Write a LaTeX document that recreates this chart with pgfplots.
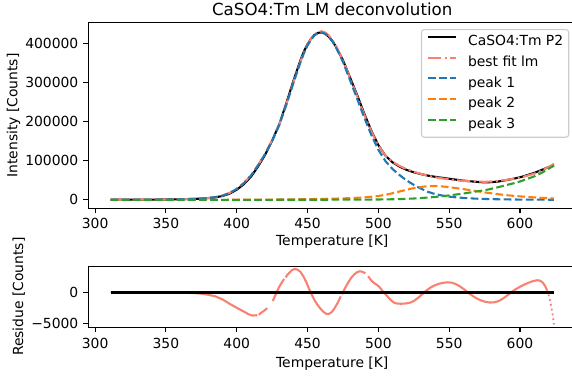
\documentclass[border=0pt]{standalone}
\usepackage{fontspec}
\setmainfont{DejaVu Sans}
\usepackage{pgfplots}
\usepackage{pgfplotstable}
\pgfplotsset{compat=1.18}
\definecolor{tabblue}{HTML}{1F77B4}
\definecolor{taborange}{HTML}{FF7F0E}
\definecolor{tabgreen}{HTML}{2CA02C}
\definecolor{salmon}{HTML}{FA8072}
\definecolor{leggray}{HTML}{CCCCCC}

\pgfplotstableread{
T data fit p1 p2 p3
311 300 350 350 0 0
315 350 405 405 0 0
320 400 460 460 0 0
325 450 515 515 0 0
330 500 570 570 0 0
335 600 680 680 0 0
340 700 790 790 0 0
345 850 950 950 0 0
350 1000 1110 1060 0 50
355 1200 1335 1285 0 50
360 1500 1660 1610 0 50
365 1900 2105 2030 0 75
370 2500 2750 2650 0 100
375 3300 3600 3450 50 100
380 4500 4920 4720 100 100
385 6500 7150 6900 150 100
390 10000 11150 10850 200 100
395 16000 17850 17480 250 120
400 26000 28500 28050 300 150
405 40000 43100 42530 400 170
410 59000 62670 61970 500 200
415 85000 88600 87800 600 200
420 115000 117850 116950 700 200
425 151000 152450 151380 850 220
430 193000 192100 190850 1000 250
435 247000 244400 242930 1200 270
440 304000 300300 298600 1400 300
445 357000 353700 351730 1650 320
447.5 380000 377600 375495 1770 335
450 398000 396850 394600 1900 350
452.5 412000 412150 409740 2050 360
455 422000 423300 420730 2200 370
457.5 427000 429300 426565 2350 385
460 428000 430850 427950 2500 400
462.5 424500 427800 424690 2700 410
465 417000 420500 417150 2900 450
467.5 406000 409000 405425 3100 475
470 392000 394300 390500 3300 500
475 357000 357000 352600 3850 550
480 313000 311000 305900 4500 600
485 268000 264750 258670 5400 680
490 221000 217850 210600 6500 750
495 177000 175100 166230 8000 870
500 140000 139000 128000 10000 1000
505 113000 113300 99000 13000 1300
510 96000 97500 78900 17000 1600
515 85000 86830 63330 21500 2000
520 76500 78270 49570 26000 2700
525 70500 71900 38400 30000 3500
530 66000 66500 28900 33000 4600
535 62000 61530 20530 35000 6000
540 59000 57850 14850 35500 7500
545 56500 55000 11200 34500 9300
550 54000 52400 8400 32500 11500
555 51600 50300 6500 30000 13800
560 49170 48700 5000 27500 16200
565 47550 47700 3900 24800 19000
570 45950 47000 3000 22000 22000
575 44600 46100 2400 19200 24500
580 45350 47000 1900 16600 28500
585 47100 48500 1500 14200 32800
590 50300 50900 1200 12200 37500
595 53700 53500 1000 10500 42000
600 57700 56800 800 9000 47000
605 63200 61800 700 7600 53500
610 68850 67000 600 6400 60000
615 76050 74300 500 5300 68500
620 83550 83850 450 4400 79000
624 87000 92200 400 3800 88000
}\maintab

\pgfplotstableread{
T r
311 -10
320 -10
330 -15
340 -20
350 -30
360 -50
370 -120
375 -220
380 -400
385 -650
390 -1150
395 -1850
400 -2500
405 -3100
408 -3500
411 -3750
414 -3700
414.5 -3680
415 nan
415.5 -3620
417 -3350
420 -2850
421.5 -2550
423.5 nan
425.5 -1400
426 -1100
428 -100
430 900
433 2000
433.5 2150
434 nan
434.5 2400
436 2900
439 3600
441 3780
443 3650
445 3300
447 2600
449 1700
451 600
453 -400
455 -1300
457 -2000
459 -2600
461 -3100
463 -3450
465 -3500
467 -3200
469 -2600
471 -1800
473 -900
473.3 -650
473.8 nan
474.3 -300
475 0
477 900
479 1700
481 2400
483 2900
485 3250
487 3400
489 3300
490.8 3050
491.8 nan
492.8 2600
495 1900
497 1500
499 1200
501 800
503 200
505 -300
507 -800
509 -1300
511 -1650
513 -1800
516 -1850
519 -1800
522 -1700
525 -1400
528 -900
531 -300
534 300
537 800
540 1150
543 1400
546 1550
549 1620
552 1550
555 1300
558 900
561 400
564 -150
567 -650
570 -1050
573 -1350
576 -1550
579 -1650
582 -1600
585 -1400
588 -1000
591 -500
594 50
597 500
600 900
603 1250
606 1550
609 1800
612 1950
614 1900
616 1600
618 900
619 400
}\restab

\pgfplotstableread{
T r
619 400
620 -300
621 -1100
622 -2200
623 -3500
624 -5195
}\resend

\pgfplotsset{
  mplaxis/.style={
    scale only axis,
    width=351.3pt,
    xmin=295.2, xmax=639.7,
    xtick={300,350,400,450,500,550,600},
    xticklabels={300,350,400,450,500,550,600},
    tick align=outside,
    tick pos=left,
    major tick length=3.5pt,
    every tick/.style={black, line width=0.8pt},
    axis line style={black, line width=0.8pt},
    font=\fontsize{10}{12}\selectfont,
    /pgf/number format/assume math mode=true,
    yticklabel style={font=\fontsize{10}{12}\selectfont, anchor=east, inner sep=0pt, xshift=-3.5pt},
    label style={font=\fontsize{10}{12}\selectfont},
  },
  dashedmpl/.style={dash pattern=on 5.55pt off 2.4pt, line width=1.5pt},
  dashdotmpl/.style={dash pattern=on 9.6pt off 2.4pt on 1.5pt off 2.4pt, line width=1.5pt},
}

\begin{document}
\begin{tikzpicture}
\begin{axis}[mplaxis,
  at={(63.58pt,-149.98pt)}, anchor=south west,
  height=133.6pt,
  ymin=-21550, ymax=452700,
  ytick={0,100000,200000,300000,400000},
  yticklabels={0,100000,200000,300000,400000},
  scaled y ticks=false,
  xticklabel style={font=\fontsize{10}{12}\selectfont, anchor=base, inner sep=0pt, yshift=-11.2pt},
  title={CaSO4:Tm LM deconvolution},
  title style={at={([yshift=-0.5pt]axis description cs:0.5,1)}, anchor=base, inner sep=0pt, font=\fontsize{12}{14}\selectfont},
  xlabel={Temperature [K]},
  xlabel style={at={([yshift=-26.5pt]axis description cs:0.5,0)}, anchor=base, inner sep=0pt},
  ylabel={Intensity [Counts]},
  ylabel style={at={([xshift=-51pt]axis description cs:0,0.5)}, anchor=base, inner sep=0pt},
  legend cell align=left,
  legend image code/.code={\draw[#1] (0pt,3.6pt) -- (20pt,3.6pt);},
  legend style={at={([xshift=-5pt,yshift=-4.5pt]axis description cs:1,1)}, anchor=north east,
    draw=leggray, line width=0.8pt, rounded corners=2pt, fill=white, fill opacity=0.8, text opacity=1,
    inner xsep=4pt, inner ysep=1.5pt, column sep=8pt, row sep=0pt,
    font=\fontsize{10}{12}\selectfont,
    nodes={inner xsep=0pt, inner ysep=2.5pt, text height=7.6pt, text depth=2.3pt}},
]
\addplot[black, line width=1.5pt] table[x=T, y=data]{\maintab};
\addlegendentry{CaSO4:Tm P2}
\addplot[salmon, dashdotmpl] table[x=T, y=fit]{\maintab};
\addlegendentry{best fit lm}
\addplot[tabblue, dashedmpl] table[x=T, y=p1]{\maintab};
\addlegendentry{peak 1}
\addplot[taborange, dashedmpl] table[x=T, y=p2]{\maintab};
\addlegendentry{peak 2}
\addplot[tabgreen, dashedmpl] table[x=T, y=p3]{\maintab};
\addlegendentry{peak 3}
\end{axis}

\begin{axis}[mplaxis,
  at={(63.58pt,-235.66pt)}, anchor=south west,
  height=44.1pt,
  ymin=-5645, ymax=4240,
  ytick={-5000,0},
  yticklabels={−5000,0},
  xticklabel style={font=\fontsize{10}{12}\selectfont, anchor=base, inner sep=0pt, yshift=-12.1pt},
  xlabel={Temperature [K]},
  xlabel style={at={([yshift=-29.1pt]axis description cs:0.5,0)}, anchor=base, inner sep=0pt},
  ylabel={Residue [Counts]},
  ylabel style={at={([xshift=-47pt]axis description cs:0,0.5)}, anchor=base, inner sep=0pt},
  unbounded coords=jump,
]
\addplot[salmon, line width=1.5pt] table[x=T, y=r]{\restab};
\addplot[salmon, line width=1.3pt, dash pattern=on 1.3pt off 2.2pt] table[x=T, y=r]{\resend};
\addplot[black, line width=1.8pt] coordinates {(311,0) (624,0)};
\end{axis}
\pgfresetboundingbox
\useasboundingbox (0pt,0pt) rectangle (411.84pt,-271.44pt);
\end{tikzpicture}
\end{document}
